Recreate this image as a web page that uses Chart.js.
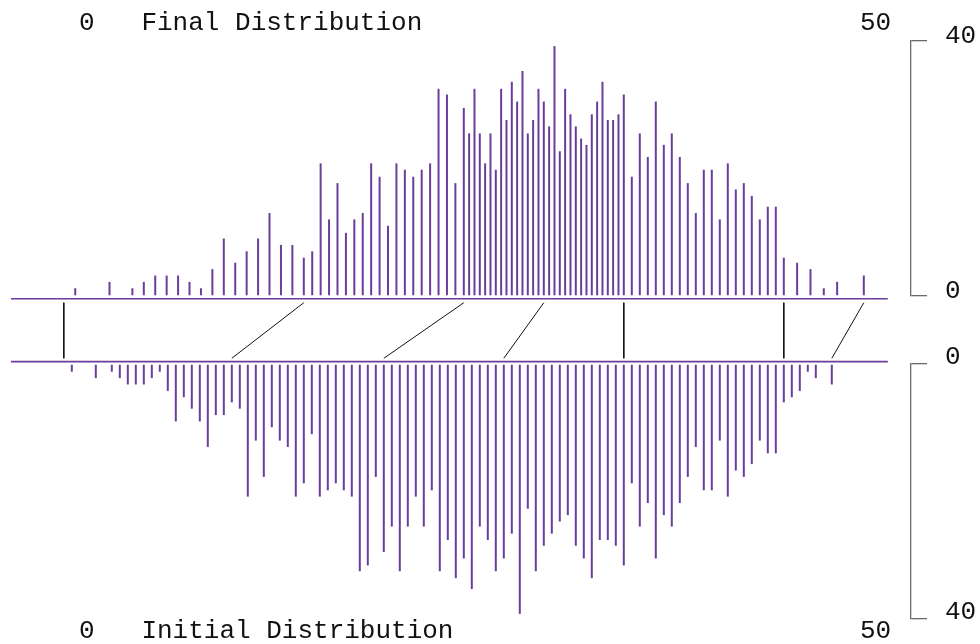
<!DOCTYPE html>
<html>
<head>
<meta charset="utf-8">
<title>Final / Initial Distribution</title>
<script src="https://cdn.jsdelivr.net/npm/chart.js@4.4.1/dist/chart.umd.min.js"></script>
<style>
  html, body { margin: 0; padding: 0; background: #fff; }
  #wrap { position: relative; width: 980px; height: 644px; overflow: hidden; }
  #grafik { position: absolute; left: 0; top: 0; }
  .lbl {
    position: absolute;
    font-family: "Courier New", "Nimbus Mono PS", "FreeMono", "Liberation Mono", monospace;
    font-size: 26px;
    line-height: 26px;
    color: #111;
    white-space: pre;
  }
</style>
</head>
<body>
<div id="wrap">
  <canvas id="grafik" width="980" height="644"></canvas>
  <div class="lbl" style="left:79px;top:10px">0   Final Distribution</div>
  <div class="lbl" style="left:860px;top:10px">50</div>
  <div class="lbl" style="left:79px;top:618px">0   Initial Distribution</div>
  <div class="lbl" style="left:860px;top:618px">50</div>
</div>
<script>
// counts per bin (the same counts sit in both panels)
const counts = [
  1.2, 0, 0, 2.2, 0, 1.2, 2.2, 3.2, 3.2, 3.2, 2.2, 1.2,
  4.2, 9.0, 5.2, 7.0, 9.0, 13.0, 8.0, 8.0, 6.0, 7.0, 20.8, 12.0,
  17.7, 9.9, 12.0, 13.0, 20.8, 18.7, 11.0, 20.8, 19.8, 18.7, 19.8, 20.8,
  32.5, 31.6, 17.7, 29.5, 25.5, 32.5, 25.5, 20.8, 25.5, 19.8, 32.5, 27.6,
  33.6, 30.5, 35.3, 25.5, 27.6, 32.5, 30.5, 26.6, 39.2, 22.7, 32.5, 28.5,
  26.6, 24.7, 23.7, 28.5, 30.5, 33.6, 27.6, 27.6, 28.5, 31.6, 18.7, 25.5,
  21.8, 30.5, 23.7, 25.5, 21.8, 17.7, 13.0, 19.8, 19.8, 12.0, 20.8, 16.7,
  17.7, 15.7, 12.0, 14.0, 14.0, 6.0, 5.2, 4.2, 1.2, 2.2, 0, 3.2
];

// bins on the initial axis: 0.5, 1.0, ... 48.0
const binStep = 0.5;
const initialX = counts.map((_, i) => (i + 1) * binStep);

// the black lines: where a point of the initial axis lands on the final axis
const linkInitial = [0, 10.5, 20, 27.5, 35, 45, 48];
const linkFinal   = [0, 15, 25, 30, 35, 45, 50];

// right hand axes
const tickStep = 40;
const countMax = 40;

const ungu = "#6a3d9a";
const abu = "#6b6b6b";
const fontLabel = { family: "'Courier New', 'Nimbus Mono PS', FreeMono, 'Liberation Mono', monospace", size: 26 };

// move a position from the initial axis to the final axis (piecewise along the links)
function keFinal(x) {
  for (let i = 1; i < linkInitial.length; i++) {
    if (x <= linkInitial[i]) {
      const a = linkInitial[i - 1], b = linkInitial[i];
      const t = (x - a) / (b - a);
      return linkFinal[i - 1] + t * (linkFinal[i] - linkFinal[i - 1]);
    }
  }
  return linkFinal[linkFinal.length - 1];
}

// no inflate, otherwise empty bins leave a dot
const barStyle = { backgroundColor: ungu, borderWidth: 0, barThickness: 2, inflateAmount: 0, grouped: false };

const datasets = [
  { type: "bar", label: "Final", yAxisID: "yTop", ...barStyle,
    data: counts.map((v, i) => ({ x: keFinal(initialX[i]), y: v })) },
  { type: "bar", label: "Initial", yAxisID: "yBot", ...barStyle,
    data: counts.map((v, i) => ({ x: initialX[i], y: v })) },
  // base lines of both panels
  { type: "line", label: "baseTop", yAxisID: "yMid", borderColor: ungu, borderWidth: 1.6, pointRadius: 0,
    data: [{ x: -3.3, y: -0.07 }, { x: 51.5, y: -0.07 }] },
  { type: "line", label: "baseBot", yAxisID: "yMid", borderColor: ungu, borderWidth: 1.6, pointRadius: 0,
    data: [{ x: -3.3, y: 1.06 }, { x: 51.5, y: 1.06 }] },
  // links between the two axes
  ...linkInitial.map((b, i) => ({
    type: "line", label: "link" + i, yAxisID: "yMid", borderColor: "#111", borderWidth: 1, pointRadius: 0,
    data: [{ x: linkFinal[i], y: 0 }, { x: b, y: 1 }]
  }))
];

// fixed width, and no extra room for the end labels (keeps the plot where it is)
function pasLebar(s) {
  s.width = 69;
  s.paddingTop = 0;
  s.paddingBottom = 0;
}

// bracket style axis on the right: only ticks 0 and 40, no grid on the plot
function sumbuKanan(reverse, weight, labelOffset) {
  return {
    type: "linear",
    position: "right",
    stack: "kanan",
    stackWeight: countMax,
    weight: weight,
    reverse: reverse,
    min: 0,
    max: countMax,
    grid: { drawOnChartArea: false, drawTicks: true, tickLength: 16, color: abu, lineWidth: 1.3 },
    border: { display: true, color: abu, width: 1.3 },
    ticks: { stepSize: tickStep, font: fontLabel, color: "#111", padding: 18, labelOffset: labelOffset },
    afterFit: pasLebar
  };
}

new Chart(document.getElementById("grafik"), {
  type: "bar",
  data: { datasets },
  options: {
    responsive: false,
    animation: false,
    layout: { padding: { left: 11, right: 0, top: 41, bottom: 25 } },
    plugins: { legend: { display: false }, tooltip: { enabled: false } },
    scales: {
      x: { type: "linear", min: -3.3, max: 52.95, offset: false, display: false },
      yTop: sumbuKanan(false, 0, -5),
      // empty band between the panels, holds the links
      yMid: {
        type: "linear", position: "right", stack: "kanan", stackWeight: 10.7, weight: 1,
        reverse: true, min: -0.122, max: 1.104,
        grid: { display: false }, border: { display: false }, ticks: { display: false },
        afterFit: pasLebar
      },
      yBot: sumbuKanan(true, 2, -7)
    }
  }
});
</script>
</body>
</html>
